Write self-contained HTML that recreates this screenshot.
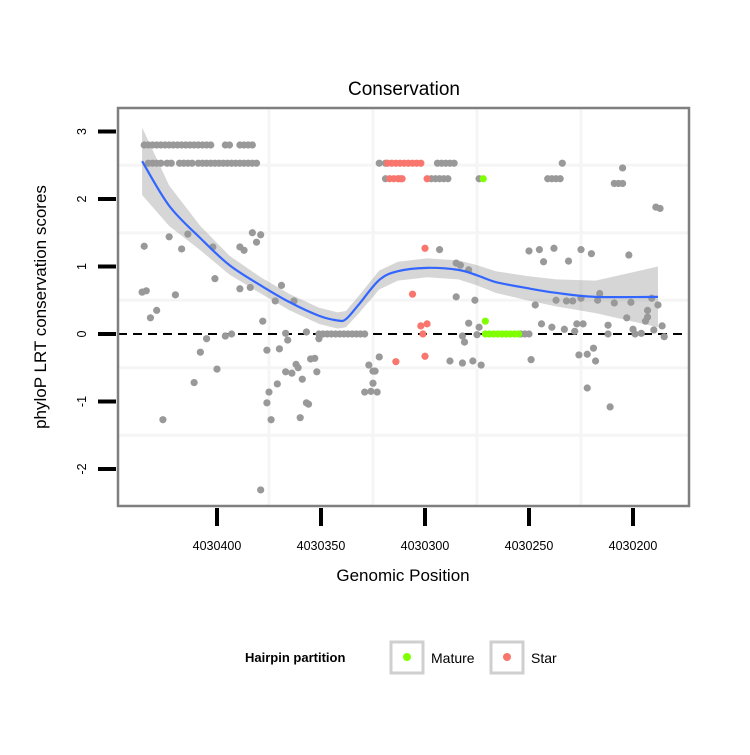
<!DOCTYPE html>
<html><head><meta charset="utf-8"><style>
body{margin:0;background:#fff}
svg text{font-family:"Liberation Sans",sans-serif}
</style></head><body>
<svg id="chart" width="750" height="750" viewBox="0 0 750 750" xmlns="http://www.w3.org/2000/svg">
<rect width="750" height="750" fill="#fff"/>
<text x="404" y="95" font-size="19" text-anchor="middle">Conservation</text>
<g id="grid"></g>
<g id="band"></g>
<line x1="118" x2="689" y1="334" y2="334" stroke="#000" stroke-width="2" stroke-dasharray="9,6"/>
<g id="pts"></g>
<g id="smooth"></g>
<rect x="118" y="108" width="571" height="398" fill="none" stroke="#7f7f7f" stroke-width="2.5"/>
<g id="axes"></g>
<text x="403" y="581" font-size="17" text-anchor="middle">Genomic Position</text>
<text transform="translate(46,307) rotate(-90)" font-size="17" text-anchor="middle">phyloP LRT conservation scores</text>
<g>
<text x="245" y="662" font-size="13" font-weight="bold">Hairpin partition</text>
<rect x="391" y="642" width="32" height="31" fill="#fff" stroke="#cfcfcf" stroke-width="3"/>
<circle cx="407" cy="657" r="4" fill="#7fff00"/>
<text x="431" y="663" font-size="14">Mature</text>
<rect x="491" y="642" width="32" height="31" fill="#fff" stroke="#cfcfcf" stroke-width="3"/>
<circle cx="507" cy="657" r="4" fill="#f8766d"/>
<text x="531" y="663" font-size="14">Star</text>
</g>
</svg>
<script>
function range(a,b){var r=[];for(var i=a;i>=b;i-=2)r.push(i);return r;}
const xTicks=[4030400,4030350,4030300,4030250,4030200];
const yTicks=[3,2,1,0,-1,-2];
const grayPos=[].concat(
 range(4030435,4030423),range(4030421,4030402),range(4030396,4030393),range(4030389,4030383),
 range(4030433,4030427),range(4030424,4030421),range(4030418,4030411),range(4030409,4030389),range(4030387,4030380),
 [4030322,4030319,4030294,4030292,4030290,4030288,4030286,4030319,4030297,4030295,4030293,4030291,4030289,4030274,4030241,4030239,4030237,4030235,4030234,4030205,4030209,4030207,4030205,4030189,4030187],
 range(4030351,4030329),range(4030254,4030250));
const grayVal=[].concat(
 Array(7).fill(2.8),Array(10).fill(2.8),Array(2).fill(2.8),Array(4).fill(2.8),
 Array(4).fill(2.53),Array(2).fill(2.53),Array(4).fill(2.53),Array(11).fill(2.53),Array(4).fill(2.53),
 [2.53,2.53,2.53,2.53,2.53,2.53,2.53,2.3,2.3,2.3,2.3,2.3,2.3,2.3,2.3,2.3,2.3,2.3,2.53,2.46,2.23,2.23,2.23,1.88,1.86],
 Array(12).fill(0),Array(3).fill(0));
const grayScatter=[
[4030435,1.3],[4030436,0.62],[4030434,0.64],[4030432,0.24],[4030429,0.35],[4030423,1.44],[4030417,1.26],[4030414,1.48],[4030420,0.58],[4030426,-1.27],[4030411,-0.72],[4030408,-0.27],[4030405,-0.07],[4030400,-0.52],[4030402,1.29],[4030401,0.82],[4030396,-0.03],[4030393,0],[4030389,0.67],[4030384,0.69],[4030389,1.29],[4030387,1.24],[4030383,1.5],[4030379,1.47],[4030381,1.36],[4030378,0.19],[4030379,-2.31],[4030376,-0.24],[4030375,-0.86],[4030376,-1.02],[4030374,-1.27],[4030372,0.49],[4030369,0.72],[4030363,0.49],[4030371,-0.74],[4030370,-0.22],[4030367,0.01],[4030366,-0.09],[4030367,-0.56],[4030364,-0.58],[4030362,-0.45],[4030361,-0.5],[4030359,-0.67],[4030360,-1.24],[4030357,-1.02],[4030357,0.03],[4030356,-1.04],[4030355,-0.37],[4030353,-0.36],[4030352,-0.56],[4030351,-0.07],[4030329,-0.86],[4030326,-0.85],[4030323,-0.86],[4030327,-0.46],[4030325,-0.55],[4030325,-0.73],[4030324,-0.55],[4030322,-0.34],
[4030293,1.25],[4030285,1.05],[4030283,1.02],[4030279,0.95],[4030285,0.55],[4030276,0.5],[4030279,0.16],[4030274,0.1],[4030275,-0.01],[4030282,-0.03],[4030281,-0.12],[4030288,-0.4],[4030282,-0.43],[4030277,-0.4],[4030273,-0.46],[4030249,-0.38],[4030250,1.23],[4030245,1.25],[4030238,1.27],[4030243,1.07],[4030231,1.08],[4030225,1.25],[4030220,1.19],[4030202,1.17],[4030247,0.43],[4030237,0.5],[4030232,0.49],[4030229,0.49],[4030225,0.53],[4030216,0.6],[4030217,0.5],[4030209,0.46],[4030201,0.47],[4030203,0.24],[4030193,0.35],[4030188,0.43],[4030191,0.53],[4030193,0.25],[4030194,0.19],[4030244,0.15],[4030239,0.1],[4030233,0.07],[4030228,0.04],[4030227,0.15],[4030224,0.15],[4030212,0.13],[4030212,0],[4030200,0.07],[4030199,0],[4030196,0.01],[4030190,0.06],[4030186,0.12],[4030185,-0.04],[4030226,-0.31],[4030222,-0.3],[4030219,-0.21],[4030218,-0.4],[4030222,-0.8],[4030211,-1.08]];
const starPos=[].concat(range(4030318,4030302),range(4030317,4030311),[4030312,4030299,4030314,4030300,4030306,4030302,4030299,4030301,4030300]);
const starVal=[].concat(Array(9).fill(2.53),Array(4).fill(2.3),[2.3,2.3,-0.41,1.27,0.59,0.12,0.15,0,-0.33]);
const maturePos=[].concat([4030272,4030271],range(4030271,4030255));
const matureVal=[].concat([2.3,0.19],Array(9).fill(0));
const smoothPos=[4030436,4030423,4030408,4030394,4030379,4030365,4030351,4030342,4030338,4030332,4030322,4030313,4030299,4030284,4030275,4030266,4030251,4030237,4030218,4030188];
const smoothVal=[2.56,1.9,1.42,1.02,0.72,0.47,0.27,0.2,0.22,0.43,0.8,0.93,0.98,0.95,0.87,0.77,0.68,0.61,0.55,0.55];
const smoothSe=[0.5,0.3,0.18,0.14,0.12,0.12,0.12,0.12,0.12,0.13,0.14,0.14,0.14,0.14,0.15,0.16,0.18,0.2,0.24,0.45];

const X=p=>217+(4030400-p)*2.08, Y=v=>334-67.5*v;
const NS='http://www.w3.org/2000/svg';
function mk(tag,attrs,parent){const e=document.createElementNS(NS,tag);for(const k in attrs)e.setAttribute(k,attrs[k]);parent.appendChild(e);return e;}
const grid=document.getElementById('grid');
[2.5,1.5,0.5,-0.5,-1.5].forEach(v=>{const l=mk('line',{x1:118,x2:689,y1:Y(v),y2:Y(v),stroke:'#f5f5f5','stroke-width':3},grid);

});
[4030375,4030325,4030275,4030225].forEach(p=>{const l=mk('line',{x1:X(p),x2:X(p),y1:108,y2:506,stroke:'#f5f5f5','stroke-width':3},grid);

});
let up='',lo='';
smoothPos.forEach((p,i)=>{up+=(i?'L':'M')+X(p)+','+Y(smoothVal[i]+smoothSe[i]);});
for(let i=smoothPos.length-1;i>=0;i--)lo+='L'+X(smoothPos[i])+','+Y(smoothVal[i]-smoothSe[i]);
const band=mk('path',{d:up+lo+'Z',fill:'#999',opacity:0.4},document.getElementById('band'));


const pts=document.getElementById('pts');
function dot(p,v,c,name){const e=mk('circle',{cx:X(p),cy:Y(v),r:3.6,fill:c},pts);

}
grayPos.forEach((p,i)=>dot(p,grayVal[i],'#999999','point-other'));
grayScatter.forEach(d=>dot(d[0],d[1],'#999999','point-other'));
starPos.forEach((p,i)=>dot(p,starVal[i],'#f8766d','point-star'));
maturePos.forEach((p,i)=>dot(p,matureVal[i],'#7fff00','point-mature'));
let d='';const pp=smoothPos.map((p,i)=>[X(p),Y(smoothVal[i])]);
for(let i=0;i<pp.length;i++){if(!i){d='M'+pp[0];continue;}
const p0=pp[Math.max(0,i-2)],p1=pp[i-1],p2=pp[i],p3=pp[Math.min(pp.length-1,i+1)];
d+='C'+(p1[0]+(p2[0]-p0[0])/6)+','+(p1[1]+(p2[1]-p0[1])/6)+' '+(p2[0]-(p3[0]-p1[0])/6)+','+(p2[1]-(p3[1]-p1[1])/6)+' '+p2;}
const sm=mk('path',{d:d,fill:'none',stroke:'#3366ff','stroke-width':2.2},document.getElementById('smooth'));


const ax=document.getElementById('axes');
xTicks.forEach(t=>{const l=mk('line',{x1:X(t),x2:X(t),y1:508,y2:526,stroke:'#000','stroke-width':4},ax);


const tx=mk('text',{x:X(t),y:550,'font-size':12.5,'text-anchor':'middle'},ax);tx.textContent=t;

});
yTicks.forEach(t=>{const l=mk('line',{x1:98,x2:116,y1:Y(t),y2:Y(t),stroke:'#000','stroke-width':4},ax);


const tx=mk('text',{transform:'translate(86,'+Y(t)+') rotate(-90)','font-size':12.5,'text-anchor':'middle'},ax);tx.textContent=t;

});
</script>
</body></html>
